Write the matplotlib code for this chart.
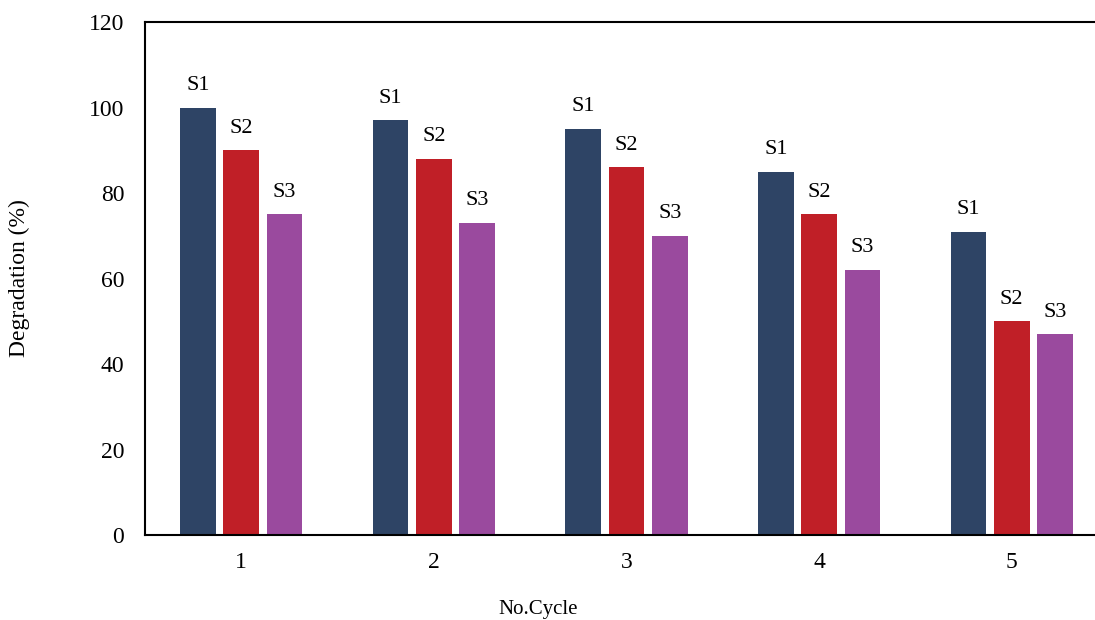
import matplotlib.pyplot as plt
import numpy as np

plt.rcParams['font.family'] = ['Liberation Serif', 'DejaVu Serif']

cycles = ['1', '2', '3', '4', '5']
series = ['S1', 'S2', 'S3']
s1 = [100, 97, 95, 85, 71]
s2 = [90, 88, 86, 75, 50]
s3 = [75, 73, 70, 62, 47]
colors = ['#2E4465', '#C01F27', '#9A4A9E']

fig = plt.figure(figsize=(10.95, 6.2), dpi=100)
# right spine falls just past the image edge, as in the original
ax = fig.add_axes([0.1324, 0.137, 0.8795, 0.8275])

x = np.arange(len(cycles))
width = 0.185
offsets = [-0.225, 0, 0.225]
for vals, name, off, c in zip([s1, s2, s3], series, offsets, colors):
    bars = ax.bar(x + off, vals, width, color=c)
    for b, v in zip(bars, vals):
        ax.annotate(name, (b.get_x() + b.get_width() / 2, v), xytext=(0, 9),
                    textcoords='offset points', ha='center', va='bottom', fontsize=16)

ax.set_xlim(-0.5, 4.5)
ax.set_ylim(0, 120)
ax.set_yticks(range(0, 121, 20))
ax.set_xticks(x)
ax.set_xticklabels(cycles)
ax.tick_params(length=0, labelsize=17)
ax.tick_params(axis='y', pad=15)
ax.tick_params(axis='x', pad=12)
for sp in ax.spines.values():
    sp.set_linewidth(1.5)

ax.set_ylabel('Degradation (%)', fontsize=17, labelpad=42)
fig.text(0.491, 0.017, 'No.Cycle', fontsize=15, ha='center', va='center')

fig.savefig('out.png', dpi=100)
